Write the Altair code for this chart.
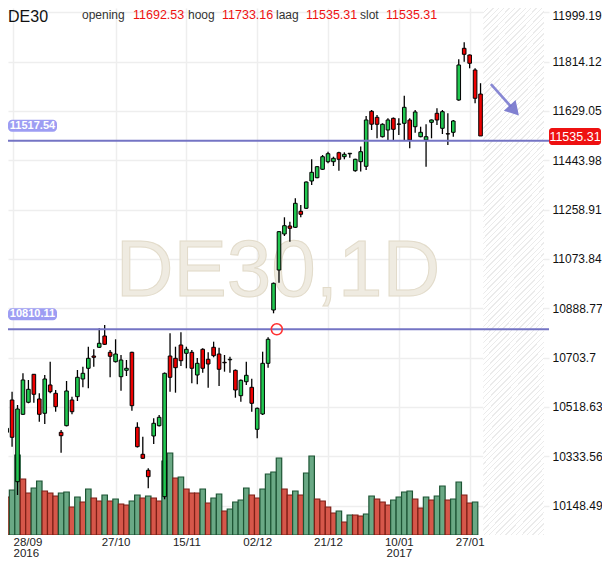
import altair as alt
import pandas as pd

# ---------------- data ----------------
opens = [10423.7, 10544.9, 10238.4, 10491.2, 10536.3, 10641.3, 10548.7, 10495.0, 10601.2, 10570.0,
         10423.7, 10448.5, 10544.9, 10557.3, 10623.7, 10663.8, 10709.9, 10742.6, 10785.0, 10723.8,
         10688.6, 10632.3, 10656.3, 10723.8, 10442.5, 10341.2, 10281.2, 10409.9, 10448.5, 10182.2,
         10709.9, 10701.3, 10751.2, 10720.1, 10723.8, 10638.7, 10735.1, 10697.6, 10742.6, 10717.4,
         10686.3, 10695.7, 10656.3, 10561.0, 10613.5, 10592.5, 10435.0, 10492.4, 10682.5, 10882.5,
         11032.5, 11167.6, 11197.6, 11192.7, 11252.7, 11264.0, 11366.4, 11378.7, 11410.3, 11438.8,
         11438.8, 11472.5, 11457.5, 11468.4, 11405.0, 11438.8, 11421.5, 11627.8, 11605.3, 11532.5,
         11557.7, 11601.5, 11579.1, 11582.8, 11595.2, 11570.0, 11532.5, 11520.2, 11586.5, 11620.3,
         11564.0, 11543.8, 11549.0, 11670.2, 11864.1, 11839.0, 11782.7, 11692.53]
highs = [10451.1, 10576.0, 10526.1, 10645.0, 10619.9, 10642.4, 10570.0, 10638.7, 10688.6, 10582.4,
         10432.4, 10616.2, 10557.3, 10657.4, 10669.8, 10744.8, 10735.1, 10813.8, 10826.2, 10732.4,
         10772.6, 10713.7, 10694.9, 10726.1, 10461.3, 10407.2, 10288.7, 10476.3, 10488.6, 10648.1,
         10795.1, 10744.8, 10798.8, 10744.8, 10732.4, 10702.4, 10738.8, 10723.8, 10763.6, 10741.1,
         10713.7, 10707.3, 10659.3, 10621.8, 10688.6, 10624.8, 10516.8, 10726.1, 10780.1, 10985.6,
         11178.8, 11230.2, 11213.7, 11301.5, 11276.3, 11364.5, 11447.8, 11422.6, 11463.9, 11476.3,
         11457.5, 11476.3, 11474.0, 11471.4, 11449.6, 11495.8, 11610.2, 11632.7, 11613.9, 11582.8,
         11601.5, 11604.6, 11601.5, 11686.3, 11601.5, 11632.7, 11570.0, 11579.1, 11597.1, 11639.1,
         11632.7, 11620.3, 11595.2, 11822.9, 11886.6, 11840.9, 11789.1, 11733.16]
lows = [10409.9, 10369.7, 10188.6, 10488.6, 10532.5, 10534.8, 10463.5, 10454.9, 10570.0, 10501.0,
        10347.2, 10446.0, 10491.2, 10541.1, 10592.5, 10588.8, 10669.8, 10740.0, 10751.2, 10630.0,
        10685.5, 10579.8, 10634.9, 10504.8, 10366.7, 10323.6, 10213.7, 10379.9, 10445.5, 10172.4,
        10576.0, 10572.3, 10672.4, 10663.8, 10607.5, 10603.8, 10647.3, 10591.0, 10705.1, 10597.4,
        10651.1, 10647.3, 10553.5, 10538.5, 10601.2, 10501.0, 10401.2, 10488.6, 10666.1, 10870.1,
        10984.9, 11160.1, 11138.7, 11190.1, 11230.2, 11261.3, 11351.4, 11376.5, 11407.6, 11432.8,
        11422.6, 11405.0, 11447.8, 11453.8, 11401.3, 11402.0, 11407.6, 11557.7, 11526.5, 11529.5,
        11520.2, 11520.2, 11538.9, 11520.2, 11489.0, 11547.5, 11530.3, 11420.0, 11526.5, 11576.4,
        11542.7, 11501.4, 11532.5, 11667.6, 11813.9, 11789.1, 11657.8, 11535.31]
closes = [10438.7, 10405.0, 10511.1, 10619.9, 10585.0, 10566.3, 10491.2, 10623.7, 10576.0, 10519.8,
          10411.0, 10578.7, 10501.0, 10630.0, 10645.0, 10701.3, 10705.1, 10757.6, 10753.8, 10708.8,
          10717.4, 10694.9, 10663.8, 10523.5, 10369.7, 10326.2, 10257.2, 10457.5, 10480.0, 10645.0,
          10630.0, 10666.1, 10692.3, 10735.1, 10663.8, 10682.5, 10663.8, 10679.9, 10711.1, 10660.1,
          10684.4, 10697.6, 10582.4, 10618.8, 10637.5, 10532.5, 10513.7, 10682.5, 10772.6, 10982.6,
          11176.2, 11198.7, 11188.9, 11282.7, 11241.5, 11362.6, 11399.0, 11420.0, 11457.5, 11468.8,
          11451.5, 11447.8, 11466.5, 11470.3, 11447.8, 11476.3, 11595.2, 11579.4, 11579.1, 11579.1,
          11595.2, 11560.3, 11580.2, 11642.8, 11520.2, 11625.2, 11549.0, 11532.5, 11595.2, 11595.2,
          11626.3, 11542.7, 11591.4, 11801.5, 11841.6, 11807.9, 11676.6, 11535.31]
# volume (arbitrary units); the current (last) candle has no volume bar yet
volumes = [38, 45, 80, 56, 42, 47, 54, 44, 42, 39,
           42, 43, 28, 38, 33, 46, 37, 34, 40, 34,
           36, 31, 30, 34, 40, 37, 39, 37, 34, 74,
           82, 57, 58, 46, 42, 42, 46, 32, 37, 41,
           24, 26, 33, 35, 47, 40, 37, 46, 61, 63,
           77, 46, 40, 44, 40, 62, 79, 36, 34, 28,
           22, 24, 13, 20, 20, 19, 21, 39, 36, 33,
           30, 35, 38, 43, 44, 36, 27, 38, 35, 39,
           49, 35, 36, 53, 40, 32, 33]

date_ticks = [20, 33, 46, 59, 72, 85]
date_labels = ["27/10", "15/11", "02/12", "21/12", "10/01", "27/01"]
first_date = ["28/09", "2016"]
year_tick, year_label = 72, "2017"
price_ticks = [10148.49, 10333.56, 10518.63, 10703.7, 10888.77, 11073.84,
               11258.91, 11443.98, 11629.05, 11814.12, 11999.19]
levels = [11517.54, 10810.11]
breakout = {"i": [49.6], "p": [10810.11]}
arrow_from = {"i": 88.9, "p": 11730.0}
arrow_to = {"i": 92.6, "p": 11645.0}
arrow_head = {"i": 93.2, "p": 11631.0}
symbol = "DE30"
watermark = "DE30,1D"

# ---------------- layout / style ----------------
W, H = 541, 527
PAD_R, PAD_B = 53, 24
X_DOMAIN = [1.171, 98.65]
Y_TOP = 12015.3
Y_DOMAIN = [Y_TOP - H * 3.7511, Y_TOP]
FONT = "Liberation Sans"
UP, DOWN = "#21c850", "#ee0000"
VUP, VDOWN = "#6aa985", "#d6574a"
VUP_S, VDOWN_S = "#1d5434", "#7d1f16"
LEVEL = "#7474c4"

xs = alt.Scale(domain=X_DOMAIN, nice=False, zero=False)
ys = alt.Scale(domain=Y_DOMAIN, nice=False, zero=False)

n = len(opens)
df = pd.DataFrame({"i": range(n), "open": opens, "high": highs, "low": lows, "close": closes})
df["dir"] = ["up" if c >= o else "down" for o, c in zip(opens, closes)]

vdf = pd.DataFrame({"i": range(len(volumes)), "vol": volumes})
vdf["dir"] = ["down"] + ["up" if b > a else "down" for a, b in zip(volumes[:-1], volumes[1:])]
vdf["x0"] = vdf["i"] - 0.5
vdf["x1"] = vdf["i"] + 0.5
vdf["zero"] = 0

one = pd.DataFrame({"a": [0]})

# x axis label expression
first_test = f"datum.value < {X_DOMAIN[0] + 0.5}"
parts = [f"{first_test} ? ['{first_date[0]}','{first_date[1]}']"]
for t, lab in zip(date_ticks, date_labels):
    if t == year_tick:
        parts.append(f"datum.value == {t} ? ['{lab}','{year_label}']")
    else:
        parts.append(f"datum.value == {t} ? '{lab}'")
x_label_expr = " : ".join(parts) + " : ''"

x_axis = alt.Axis(values=[X_DOMAIN[0]] + date_ticks, labelExpr=x_label_expr, title=None,
                  domain=False, ticks=False, labelFlush=False, labelPadding=1,
                  labelAlign={"condition": {"test": first_test, "value": "left"}, "value": "center"},
                  labelFontSize=11.5, labelFont=FONT, labelColor="#222222",
                  labelBaseline="top", labelLineHeight=11.5, labelOverlap=False,
                  grid=True, gridColor="#eeeeee", gridWidth=1.5)
y_axis = alt.Axis(orient="right", values=price_ticks, labelExpr="'' + datum.value", title=None,
                  domain=False, ticks=False, labelPadding=3, labelFontSize=12, labelFont=FONT,
                  labelColor="#111111", labelOverlap=False, labelFlush=False,
                  labelOffset={"condition": {"test": f"datum.value > {price_ticks[-1] - 1}", "value": 3},
                               "value": 0},
                  grid=True, gridColor="#eeeeee", gridWidth=1.5)


def X(field):
    return alt.X(field, scale=xs, axis=x_axis)


def Yp(field):
    return alt.Y(field, scale=ys, axis=None)


# ---------------- hatched "future" zone ----------------
hatch_start = n - 0.5
hatch_w = W * (X_DOMAIN[1] - hatch_start) / (X_DOMAIN[1] - X_DOMAIN[0])
a_ = hatch_w / H
k_ = (hatch_w + H) / (H * (1 + a_ * a_))
nper = int((hatch_w + H) / 5.5)
stops = []
for j in range(nper):
    t0, t1, t2 = j / nper, (j + 0.75) / nper, (j + 1) / nper
    stops += [alt.GradientStop(offset=t0, color="#ffffff"), alt.GradientStop(offset=t1, color="#ffffff"),
              alt.GradientStop(offset=t1, color="#ebebeb"), alt.GradientStop(offset=t2, color="#ebebeb")]
hatch = alt.Chart(pd.DataFrame({"x0": [hatch_start], "x1": [X_DOMAIN[1]]})).mark_rect(
    fill=alt.LinearGradient(gradient="linear", stops=stops, x1=0, y1=0, x2=a_ * k_, y2=k_),
    clip=True
).encode(x=X("x0:Q"), x2="x1:Q", y=alt.value(0), y2=alt.value(H))

# ---------------- watermark ----------------
wm = alt.Chart(one).mark_text(text=watermark, font=FONT, fontSize=80, fill="#efebe1",
                              stroke="#e2dbca", strokeWidth=1, align="center",
                              baseline="alphabetic").encode(x=alt.value(270), y=alt.value(288))

# ---------------- volume ----------------
vol = alt.Chart(vdf).mark_rect(strokeWidth=1.2, clip=True).encode(
    x=X("x0:Q"), x2="x1:Q",
    y=alt.Y("vol:Q", scale=alt.Scale(domain=[0, H], nice=False, zero=True), axis=None),
    y2="zero:Q",
    fill=alt.condition("datum.dir == 'up'", alt.value(VUP), alt.value(VDOWN)),
    stroke=alt.condition("datum.dir == 'up'", alt.value(VUP_S), alt.value(VDOWN_S)),
)

# ---------------- candles ----------------
wick = alt.Chart(df).mark_rule(color="black", strokeWidth=1.3, clip=True).encode(
    x=X("i:Q"), y=Yp("low:Q"), y2="high:Q")
body = alt.Chart(df).mark_bar(size=3.6, stroke="black", strokeWidth=1, clip=True).encode(
    x=X("i:Q"),
    y=alt.Y("open:Q", scale=ys, axis=y_axis), y2="close:Q",
    fill=alt.condition("datum.dir == 'up'", alt.value(UP), alt.value(DOWN)))

# ---------------- levels ----------------
ldf = pd.DataFrame({"p": levels, "lab": [f"{v:.2f}" for v in levels]})
lines = alt.Chart(ldf).mark_rule(color=LEVEL, strokeWidth=2).encode(y=Yp("p:Q"))
lbox = alt.Chart(ldf).mark_rect(color="#9d9df3", cornerRadius=4, yOffset=-21, y2Offset=-9).encode(
    x=alt.value(0), x2=alt.value(49), y=Yp("p:Q"), y2="p:Q")
ltext = alt.Chart(ldf).mark_text(color="white", font=FONT, fontSize=11, fontWeight="bold",
                                 align="center", baseline="middle", dy=-15).encode(
    x=alt.value(24.5), y=Yp("p:Q"), text="lab:N")

circle = alt.Chart(pd.DataFrame(breakout)).mark_point(shape="circle", size=121, filled=False,
                                                       stroke="#ff3030", strokeWidth=1.5, opacity=1).encode(
    x=X("i:Q"), y=Yp("p:Q"))

# ---------------- arrow ----------------
adf = pd.DataFrame({"i": [arrow_from["i"]], "p": [arrow_from["p"]],
                    "i2": [arrow_to["i"]], "p2": [arrow_to["p"]]})
shaft = alt.Chart(adf).mark_rule(color="#7b7bcf", strokeWidth=2.6, opacity=0.9).encode(
    x=X("i:Q"), x2="i2:Q", y=Yp("p:Q"), y2="p2:Q")
head = alt.Chart(pd.DataFrame({"i": [arrow_head["i"]], "p": [arrow_head["p"]]})).mark_point(
    shape="triangle-up", size=250, filled=True, color="#7373cc", opacity=0.9, angle=138).encode(
    x=X("i:Q"), y=Yp("p:Q"))

# ---------------- last price tag (right) ----------------
last_df = pd.DataFrame({"p": [closes[-1]], "lab": [f"{closes[-1]:.2f}"]})
lastbox = alt.Chart(last_df).mark_rect(color="#ee1111", cornerRadius=3, yOffset=-8, y2Offset=9).encode(
    x=alt.value(W), x2=alt.value(W + 52), y=Yp("p:Q"), y2="p:Q")
lasttext = alt.Chart(last_df).mark_text(color="white", font=FONT, fontSize=12.5,
                                        align="center", baseline="middle", dy=1).encode(
    x=alt.value(W + 26), y=Yp("p:Q"), text="lab:N")

# ---------------- header ----------------
hdr_layers = [alt.Chart(one).mark_text(text=symbol, font=FONT, fontSize=16, color="#111111",
                                       align="left", baseline="alphabetic").encode(
    x=alt.value(0), y=alt.value(14))]
hdr_words = ["opening", "hoog", "laag", "slot"]
hdr_vals = [opens[-1], highs[-1], lows[-1], closes[-1]]
word_x = [74, 180, 268, 352]
val_x = [125, 214, 298, 378]
for w_, v_, wx, vx in zip(hdr_words, hdr_vals, word_x, val_x):
    hdr_layers.append(alt.Chart(one).mark_text(text=w_, font=FONT, fontSize=12, color="#333333",
                                               align="left", baseline="alphabetic").encode(
        x=alt.value(wx), y=alt.value(11)))
    hdr_layers.append(alt.Chart(one).mark_text(text=f"{v_:.2f}", font=FONT, fontSize=12.5,
                                               color="#ee1111", align="left",
                                               baseline="alphabetic").encode(
        x=alt.value(vx), y=alt.value(11)))

chart = alt.layer(
    hatch, wm, vol, wick, body, lines, lbox, ltext, circle, shaft, head, lastbox, lasttext,
    *hdr_layers
).resolve_scale(y="independent").properties(
    width=W, height=H,
    padding={"left": 0, "top": 0, "right": PAD_R, "bottom": PAD_B},
    autosize=alt.AutoSizeParams(type="none"),
    background="white",
).configure_view(stroke=None)

chart.save("out.html", embed_options={"renderer": "svg", "actions": False})
